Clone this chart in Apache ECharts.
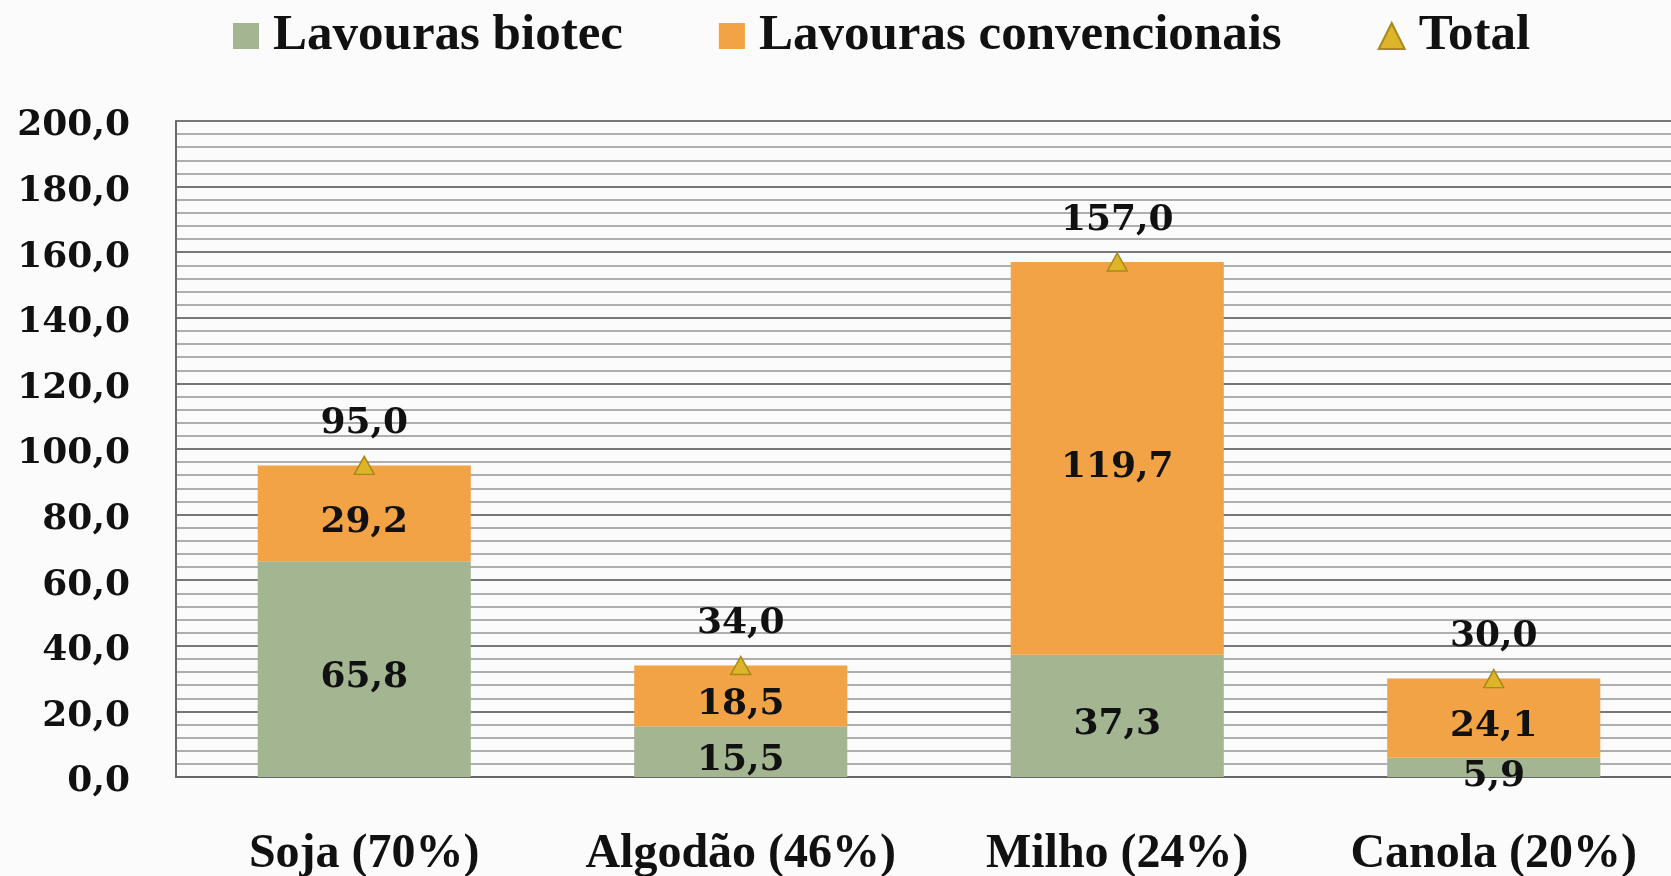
<!DOCTYPE html>
<html>
<head>
<meta charset="utf-8">
<script src="https://cdn.jsdelivr.net/npm/echarts@6/dist/echarts.min.js"></script>
<style>
  html, body { margin: 0; padding: 0; background: #fbfbfb; }
  #main { width: 1671px; height: 876px; }
</style>
</head>
<body>
<div id="main"></div>
<script>
var chart = echarts.init(document.getElementById('main'));

// dados do gráfico
var categorias = ['Soja (70%)', 'Algodão (46%)', 'Milho (24%)', 'Canola (20%)'];
var biotec = [65.8, 15.5, 37.3, 5.9];
var convencionais = [29.2, 18.5, 119.7, 24.1];
var total = [95.0, 34.0, 157.0, 30.0];

var fonteNumeros = 'DejaVu Serif';
var fonteTexto = 'Liberation Serif';

// formato com vírgula decimal
function fmt(v) {
  return Number(v).toFixed(1).replace('.', ',');
}

var rotuloBarra = {
  show: true,
  position: 'inside',
  offset: [0, 9],
  fontFamily: fonteNumeros,
  fontWeight: 'bold',
  fontSize: 36,
  color: '#111',
  formatter: function (p) { return fmt(p.value); }
};

var option = {
  backgroundColor: '#fbfbfb',
  animation: false,
  legend: {
    left: 228,
    top: 0,
    itemWidth: 26,
    itemHeight: 26,
    itemGap: 96,
    textStyle: {
      fontFamily: fonteTexto,
      fontWeight: 'bold',
      fontSize: 51,
      lineHeight: 62,
      color: '#111',
      padding: [0, 0, 0, 9]
    },
    data: [
      { name: 'Lavouras biotec', icon: 'rect' },
      { name: 'Lavouras convencionais', icon: 'rect' },
      { name: 'Total', icon: 'triangle' }
    ]
  },
  grid: {
    left: 176,
    top: 121,
    width: 1506,
    height: 656,
    outerBoundsMode: 'none'
  },
  xAxis: {
    type: 'category',
    data: categorias,
    axisLine: { lineStyle: { color: '#666', width: 2 } },
    axisTick: { show: false },
    axisLabel: {
      interval: 0,
      margin: 54,
      fontFamily: fonteTexto,
      fontWeight: 'bold',
      fontSize: 48,
      color: '#111'
    }
  },
  yAxis: {
    type: 'value',
    min: 0,
    max: 200,
    interval: 20,
    axisLine: { show: true, lineStyle: { color: '#6a6a6a', width: 2 } },
    axisTick: { show: false },
    axisLabel: {
      margin: 46,
      fontFamily: fonteNumeros,
      fontWeight: 'bold',
      fontSize: 36,
      color: '#111',
      formatter: function (v) { return '{n|' + fmt(v) + '}'; },
      rich: {
        n: {
          fontFamily: fonteNumeros,
          fontWeight: 'bold',
          fontSize: 36,
          color: '#111',
          padding: [10, 0, 0, 0]
        }
      }
    },
    splitLine: { lineStyle: { color: '#777', width: 2 } },
    minorTick: { show: false, splitNumber: 5 },
    minorSplitLine: { show: true, lineStyle: { color: '#959595', width: 1.5 } }
  },
  series: [
    {
      name: 'Lavouras biotec',
      type: 'bar',
      stack: 'area',
      barWidth: '56.6%',
      data: biotec,
      itemStyle: { color: '#A4B592' },
      label: rotuloBarra
    },
    {
      name: 'Lavouras convencionais',
      type: 'bar',
      stack: 'area',
      barWidth: '56.6%',
      data: convencionais,
      itemStyle: { color: '#F2A346' },
      label: rotuloBarra
    },
    {
      name: 'Total',
      type: 'line',
      data: total,
      symbol: 'triangle',
      symbolSize: [20, 18],
      lineStyle: { width: 0, opacity: 0 },
      itemStyle: { color: '#DDB42A', borderColor: '#A8891A', borderWidth: 1.5 },
      label: {
        show: true,
        position: 'top',
        distance: 14,
        fontFamily: fonteNumeros,
        fontWeight: 'bold',
        fontSize: 36,
        color: '#111',
        formatter: function (p) { return fmt(p.value); }
      },
      z: 5
    }
  ]
};

chart.setOption(option);
</script>
</body>
</html>
